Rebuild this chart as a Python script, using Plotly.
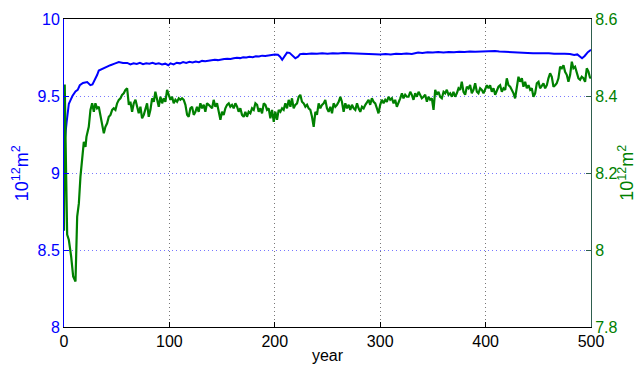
import plotly.graph_objects as go

# ---- blue series (left axis, 10^12 m^2) ----
blue_years = [0, 1, 2.5, 4, 4.6, 6, 8, 10.9, 13, 15, 18, 22, 25, 27, 29, 31.4, 33, 36, 40, 44, 48, 52, 56,
              60, 63, 66, 69, 72, 75, 78, 81, 84, 87, 90, 93, 96, 99, 101, 104, 107, 110, 113, 116, 119,
              122, 125, 128, 131, 134, 137, 140, 143, 146, 149, 152, 155, 158, 161, 164, 167, 170, 173,
              176, 179, 182, 185, 188, 191, 194, 197, 200, 203, 205, 207, 209, 211.6, 214, 216, 219.5,
              222, 224, 227, 230, 235, 240, 245, 250, 255, 260, 265, 270, 275, 280, 285, 290, 295, 300,
              305, 310, 315, 320, 325, 330, 333, 336, 340, 345, 350, 355, 360, 365, 370, 375, 380, 385,
              390, 395, 400, 404, 409, 413, 418, 422, 427, 431, 436, 440, 445, 450, 455, 460, 465, 470,
              475, 480, 484, 487, 489, 491.5, 494, 497, 500]
blue_vals = [9.30, 9.23, 9.33, 9.43, 9.45, 9.47, 9.50, 9.53, 9.54, 9.57, 9.585, 9.59, 9.57, 9.575, 9.60,
             9.636, 9.665, 9.675, 9.69, 9.70, 9.71, 9.72, 9.715,
             9.715, 9.705, 9.712, 9.708, 9.715, 9.706, 9.712, 9.71, 9.716, 9.708, 9.712, 9.705, 9.71,
             9.70, 9.712, 9.705, 9.716, 9.712, 9.72, 9.715, 9.722, 9.718, 9.724, 9.72, 9.728, 9.725,
             9.73, 9.732, 9.735, 9.733, 9.738, 9.74, 9.742, 9.74, 9.745, 9.748, 9.746, 9.752, 9.75,
             9.755, 9.752, 9.758, 9.756, 9.762, 9.76, 9.765, 9.765, 9.77, 9.768, 9.755, 9.735, 9.755,
             9.782, 9.78, 9.765, 9.745, 9.755, 9.772, 9.775, 9.772, 9.776, 9.774, 9.777, 9.775, 9.778,
             9.776, 9.779, 9.777, 9.778, 9.776, 9.775, 9.773, 9.771, 9.77, 9.773, 9.77, 9.774, 9.772,
             9.776, 9.773, 9.78, 9.783, 9.78, 9.784, 9.782, 9.785, 9.783, 9.786, 9.784, 9.788, 9.786,
             9.789, 9.787, 9.789, 9.79, 9.788, 9.792, 9.789, 9.788, 9.786, 9.784, 9.785, 9.781, 9.78,
             9.777, 9.778, 9.776, 9.777, 9.775, 9.776, 9.774, 9.772, 9.766, 9.77, 9.76, 9.745, 9.76,
             9.785, 9.80]

# ---- green series (right axis, 10^12 m^2) ----
green_years = [0, 0.7, 2, 3, 4.6, 6.8, 8.7, 10.9, 12.5, 14.1, 15.6, 17.2, 18.8, 20.4, 21.3, 23.5, 25.1,
               26.7, 28.3, 29.8, 31.4, 33.0, 34.6, 36.2, 37.8, 39.3, 40.9, 42.5, 44.1, 45.7, 47.2, 48.8,
               50.4, 52.0, 53.6, 55.1, 56.7, 58.3, 59.9, 61.5,
               63.0, 64.6, 66.2, 67.8, 69.4, 70.9, 72.5, 74.1, 75.7, 77.3, 78.8, 80.4, 82.0, 83.6, 85.2,
               86.7, 88.3, 89.9, 91.5, 93.1, 94.6, 96.2, 97.8, 99.4, 101.0, 102.5, 104.1, 105.7, 107.3,
               108.9, 110.4, 112.0, 113.6, 115.2, 116.8, 118.3, 119.9, 121.5, 123.1, 124.7, 126.2,
               127.8, 129.4, 131.0, 132.6, 134.1, 135.7, 137.3, 138.9, 140.5, 142.0, 143.6, 145.2,
               146.8, 148.4, 149.9, 151.5, 153.1, 154.7, 156.3, 157.8, 159.4, 161.0, 162.6, 164.2,
               165.7, 167.3, 168.9, 170.5, 172.1, 173.6, 175.2,
               176.8, 178.4, 180.0, 181.6, 183.2, 184.7, 186.3, 187.9, 189.5, 191.1, 192.6, 194.2,
               195.8, 197.4, 199.0, 200.5, 202.1, 203.7, 205.3, 206.9, 208.4, 210.0, 211.6, 213.2,
               214.8, 216.3, 217.9, 219.5, 221.1, 222.7, 224.2, 225.8, 227.4, 229.0, 230.6, 232.1,
               233.7, 235.3, 236.9, 238.5, 240.0, 241.6, 243.2, 244.8, 246.4, 247.9, 249.5, 251.1,
               252.7, 254.3, 255.8, 257.4, 259.0, 260.6, 262.2, 263.7, 265.3, 266.9, 268.5, 270.1,
               271.6, 273.2, 274.8, 276.4, 278.0, 279.5, 281.1, 282.7, 284.3, 285.9, 287.4, 289.0,
               290.5, 292.1, 293.7, 295.3, 296.9, 298.4, 300.0, 301.6, 303.2, 304.8, 306.3, 307.9,
               309.5, 311.1, 312.7, 314.2, 315.8, 317.4, 319.0, 320.6, 322.1, 323.7, 325.3, 326.9,
               328.5, 330.0, 331.6, 333.2, 334.8, 336.4, 337.9, 339.5, 341.1, 342.7, 344.3, 345.8,
               347.4, 349.0, 350.6, 352.2, 353.7, 355.3, 356.9, 358.5, 360.1, 361.6, 363.2, 364.8,
               366.4, 368.0, 369.5, 371.1, 372.7, 374.3, 375.9, 377.4, 379.0, 380.6, 382.2, 383.8,
               385.3, 386.9, 388.5, 390.1, 391.7, 393.2, 394.8, 396.4, 398.0,
               401.2, 402.8, 404.3, 405.9, 407.5, 409.1, 410.7, 412.2, 413.8, 415.4, 417.0, 418.6,
               420.1, 421.7, 423.3, 424.9, 426.5, 428.0, 429.6, 431.2, 432.8, 434.4, 435.9, 437.5,
               439.1, 440.7, 442.3, 443.8, 445.4, 447.0, 448.6, 450.2, 451.7, 453.3, 454.9, 456.5,
               458.1, 459.6, 461.2, 462.8, 464.4, 466.0, 467.5, 469.1, 470.7, 472.3, 473.9, 475.4,
               477.0, 478.6, 480.2, 481.8, 483.3, 484.9, 486.5, 488.1, 489.7, 491.2, 492.8, 494.4,
               496.0, 497.6, 499.2, 500]
green_vals = [8.05, 8.43, 8.20, 8.04, 8.026, 7.983, 7.931, 7.918, 8.087, 8.121, 8.19, 8.234, 8.281,
              8.268, 8.294, 8.32, 8.364, 8.381, 8.359, 8.381, 8.368, 8.372, 8.351, 8.329, 8.303, 8.32,
              8.329, 8.346, 8.351, 8.364, 8.368, 8.364, 8.381, 8.39, 8.394, 8.403, 8.407, 8.416, 8.42,
              8.377,
              8.385, 8.359, 8.381, 8.390, 8.368, 8.355, 8.372, 8.342, 8.351, 8.368, 8.381, 8.346,
              8.364, 8.394, 8.385, 8.411, 8.390, 8.372, 8.398, 8.381, 8.394, 8.385, 8.416, 8.403,
              8.390, 8.398, 8.381, 8.390, 8.385, 8.394, 8.390, 8.394, 8.390, 8.377, 8.351, 8.346,
              8.368, 8.372, 8.351, 8.359, 8.372, 8.359, 8.381, 8.368, 8.377, 8.359, 8.381, 8.377,
              8.372, 8.368, 8.390, 8.372, 8.381, 8.355, 8.338, 8.359, 8.351, 8.368, 8.377, 8.381,
              8.372, 8.377, 8.368, 8.381, 8.372, 8.359, 8.368, 8.351, 8.346, 8.359, 8.346, 8.359,
              8.355, 8.368, 8.364, 8.381, 8.377, 8.359, 8.368, 8.355, 8.381, 8.377, 8.364, 8.368,
              8.342, 8.364, 8.333, 8.359, 8.338, 8.364, 8.359, 8.368, 8.364, 8.381, 8.368, 8.390,
              8.372, 8.394, 8.368, 8.377, 8.381, 8.398, 8.403, 8.385, 8.381, 8.372, 8.377, 8.368,
              8.364, 8.346, 8.320, 8.359, 8.351, 8.381, 8.368, 8.377, 8.381, 8.390, 8.368, 8.359,
              8.372, 8.355, 8.381, 8.372, 8.377, 8.385, 8.398, 8.385, 8.359, 8.381, 8.368, 8.377,
              8.364, 8.377, 8.368, 8.364, 8.381, 8.368, 8.359, 8.372, 8.368, 8.377, 8.385, 8.390,
              8.377, 8.394, 8.385, 8.381, 8.368, 8.355, 8.377, 8.390, 8.381, 8.390, 8.385, 8.398,
              8.390, 8.394, 8.381, 8.390, 8.372, 8.381, 8.394, 8.407, 8.394, 8.403, 8.398, 8.398,
              8.411, 8.403, 8.390, 8.407, 8.398, 8.411, 8.403, 8.394, 8.398, 8.403, 8.385, 8.398,
              8.390, 8.394, 8.364, 8.416, 8.403, 8.411, 8.398, 8.394, 8.411, 8.407, 8.416, 8.403,
              8.407, 8.398, 8.411, 8.398, 8.407, 8.420, 8.416, 8.437, 8.411, 8.403, 8.424, 8.420,
              8.429, 8.407, 8.416, 8.433, 8.411, 8.407, 8.420, 8.416, 8.407,
              8.428, 8.420, 8.428, 8.411, 8.420, 8.403, 8.416, 8.424, 8.428, 8.411, 8.420, 8.416,
              8.446, 8.428, 8.424, 8.416, 8.407, 8.394, 8.428, 8.450, 8.437, 8.446, 8.424, 8.437,
              8.420, 8.428, 8.416, 8.420, 8.398, 8.407, 8.433, 8.437, 8.420, 8.428, 8.433, 8.420,
              8.428, 8.446, 8.459, 8.450, 8.424, 8.428, 8.433, 8.446, 8.476, 8.472, 8.480, 8.463,
              8.455, 8.437, 8.455, 8.489, 8.472, 8.476, 8.463, 8.446, 8.442, 8.450, 8.446, 8.437,
              8.472, 8.463, 8.446, 8.450]

x_ticks = [0, 100, 200, 300, 400, 500]
left_ticks = [8, 8.5, 9, 9.5, 10]
right_ticks = [7.8, 8, 8.2, 8.4, 8.6]
unit_label = "10<sup>12</sup>m<sup>2</sup>"

BLUE = "#0000ff"
GREEN = "#008000"
FONT = "Liberation Sans, Arial, sans-serif"

fig = go.Figure()
fig.add_trace(go.Scatter(x=blue_years, y=blue_vals, mode="lines",
                         line=dict(color=BLUE, width=2), yaxis="y", showlegend=False))
fig.add_trace(go.Scatter(x=green_years, y=green_vals, mode="lines",
                         line=dict(color=GREEN, width=2.2), yaxis="y2", showlegend=False))

fig.update_layout(
    width=639, height=365,
    margin=dict(l=64, r=48, t=19, b=38),
    paper_bgcolor="white", plot_bgcolor="white",
    font=dict(family=FONT, size=16, color="black"),
    xaxis=dict(range=[0, 500], tickvals=x_ticks, ticks="inside", ticklen=5,
               tickcolor="black", showline=True, linecolor="black", linewidth=1,
               mirror="ticks", showgrid=True, gridcolor="#777777", griddash="1px,3px",
               gridwidth=1, zeroline=False, automargin=False,
               tickfont=dict(size=16, color="black"),
               title=dict(text="year", font=dict(size=16, color="black"), standoff=0)),
    yaxis=dict(range=[8, 10], tickvals=left_ticks, ticks="inside", ticklen=5,
               tickcolor=BLUE, showline=True, linecolor=BLUE, linewidth=1,
               showgrid=True, gridcolor="#7777ff", griddash="1px,3px", gridwidth=1,
               zeroline=False, automargin=False, tickfont=dict(size=16, color=BLUE)),
    yaxis2=dict(range=[7.8, 8.6], tickvals=right_ticks, ticks="inside", ticklen=5,
                tickcolor="#2e5e4e", showline=True, linecolor="#2e5e4e", linewidth=1,
                overlaying="y", side="right", showgrid=False, zeroline=False,
                automargin=False, tickfont=dict(size=16, color=GREEN)),
    annotations=[
        dict(text=unit_label, xref="paper", yref="paper", x=-0.083, y=0.5,
             xanchor="center", yanchor="middle", textangle=-90, showarrow=False,
             font=dict(size=18, color=BLUE, family=FONT)),
        dict(text=unit_label, xref="paper", yref="paper", x=1.066, y=0.5,
             xanchor="center", yanchor="middle", textangle=-90, showarrow=False,
             font=dict(size=18, color=GREEN, family=FONT)),
    ],
)

fig.write_html("out.html", config={"displayModeBar": False},
               post_script="document.body.style.margin='0px';document.body.style.overflow='hidden';")
